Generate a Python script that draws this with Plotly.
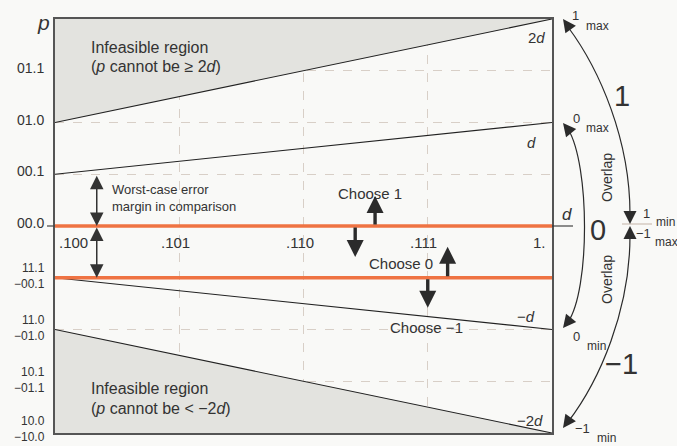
import plotly.graph_objects as go

# ---------------- data ----------------
d_range = [0.5, 1.0]                                  # d from .100 to 1. (binary)
x_ticks = [0.5, 0.625, 0.75, 0.875, 1.0]
x_labels = ['.100', '.101', '.110', '.111', '1.']
p_ticks = [1.5, 1.0, 0.5, 0.0, -0.5, -1.0, -1.5, -2.0]
p_labels_top = ['01.1', '01.0', '00.1', '00.0', '11.1', '11.0', '10.1', '10.0']
p_labels_bottom = ['', '', '', '', '−00.1', '−01.0', '−01.1', '−10.0']
bound_mult = [2, 1, -1, -2]
bound_labels = ['2<i>d</i>', '<i>d</i>', '−<i>d</i>', '−2<i>d</i>']
thresholds = [0.0, -0.5]
p_max, p_min = 2.0, -2.0

# choose-arrows: (x, tail p, tip p)
choose_arrows = [(0.822, 0.0, 0.29), (0.802, 0.0, -0.30),
                 (0.895, -0.5, -0.20), (0.875, -0.5, -0.79)]
margin_arrow_x = 0.542

# ---------------- style ----------------
BG = '#f9f9f7'
FILL = '#e3e3df'
ORANGE = '#ef7343'
GRID = '#d8cfc7'
TXT = '#333333'
FONT = 'Liberation Sans, Arial, sans-serif'

L, T, W, H = 55, 19, 497, 414
def px(x):
    return (x - L) / W
def py(y):
    return (T + H - y) / H

fig = go.Figure()

# infeasible regions
fig.add_trace(go.Scatter(x=[d_range[0], d_range[1], d_range[0], d_range[0]],
                         y=[bound_mult[0] * d_range[0], bound_mult[0] * d_range[1], p_max, bound_mult[0] * d_range[0]],
                         fill='toself', fillcolor=FILL, mode='lines', line=dict(width=0),
                         hoverinfo='skip', showlegend=False))
fig.add_trace(go.Scatter(x=[d_range[0], d_range[1], d_range[0], d_range[0]],
                         y=[bound_mult[3] * d_range[0], bound_mult[3] * d_range[1], p_min, bound_mult[3] * d_range[0]],
                         fill='toself', fillcolor=FILL, mode='lines', line=dict(width=0),
                         hoverinfo='skip', showlegend=False))

# bound lines p = k d
for k in bound_mult:
    fig.add_trace(go.Scatter(x=d_range, y=[k * d for d in d_range], mode='lines',
                             line=dict(color='#222222', width=1.1),
                             hoverinfo='skip', showlegend=False))

# threshold lines
for t in thresholds:
    fig.add_trace(go.Scatter(x=d_range, y=[t, t], mode='lines',
                             line=dict(color=ORANGE, width=3.6),
                             hoverinfo='skip', showlegend=False))

ann = []
def text(x, y, s, size=14, xanchor='center', yanchor='middle', xref='paper', yref='paper', **kw):
    d = dict(x=x, y=y, text=s, showarrow=False, xref=xref, yref=yref,
             xanchor=xanchor, yanchor=yanchor, font=dict(size=size, color=TXT, family=FONT))
    d.update(kw)
    ann.append(d)

# y tick labels
for p, a, b in zip(p_ticks, p_labels_top, p_labels_bottom):
    if b:
        ys = 4 if p == p_min else 1.5
        text(0, p, a + '<br>' + b, size=12, xanchor='right', yref='y', xshift=-8, yshift=ys,
             align='right')
    else:
        text(0, p, a, size=14, xanchor='right', yref='y', xshift=-9, yshift=3)
text(px(43), py(22), '<i>p</i>', size=21)

# x tick labels (inside, under p = 0 line)
for i, (xv, lab) in enumerate(zip(x_ticks, x_labels)):
    if i == 0:
        text(xv, thresholds[0], lab, size=15, xanchor='left', xref='x', yref='y', xshift=2, yshift=-16)
    elif i == len(x_ticks) - 1:
        text(xv, thresholds[0], lab, size=15, xanchor='right', xref='x', yref='y', xshift=-4, yshift=-16)
    else:
        text(xv, thresholds[0], lab, size=15, xanchor='center', xref='x', yref='y', xshift=-4, yshift=-16)

# bound labels
bl_shift = [(-5, -18), (-14, -19.5), (-15, 13.5), (-7, 13)]
for k, lab, (xs, ys) in zip(bound_mult, bound_labels, bl_shift):
    text(d_range[1], k * d_range[1], lab, size=15, xanchor='right', xref='x', yref='y', xshift=xs, yshift=ys)
text(px(567), py(214), '<i>d</i>', size=17)

# infeasible region texts
text(px(89), py(48), 'Infeasible region', size=16, xanchor='left')
text(px(89), py(67), '(<i>p</i> cannot be ≥ 2<i>d</i>)', size=16, xanchor='left')
text(px(89), py(388), 'Infeasible region', size=16, xanchor='left')
text(px(89), py(408), '(<i>p</i> cannot be &lt; −2<i>d</i>)', size=16, xanchor='left')

# worst-case margin text
text(px(110), py(190), 'Worst-case error', size=13, xanchor='left')
text(px(110), py(206), 'margin in comparison', size=13, xanchor='left')

# choose texts
text(px(336), py(193), 'Choose 1', size=15, xanchor='left')
text(px(367), py(263), 'Choose 0', size=15, xanchor='left')
text(px(388), py(327), 'Choose −1', size=15, xanchor='left')

# right side labels
text(px(622), py(96), '1', size=29)
text(px(598), py(230), '0', size=29)
text(px(621), py(364), '−1', size=29)
text(px(607), py(178), 'Overlap', size=14, textangle=-90)
text(px(607), py(280), 'Overlap', size=14, textangle=-90)

small = [('1', 575, 16, 'max', 597, 26), ('0', 576, 119, 'max', 597, 128),
         ('0', 576, 336, 'min', 596, 346), ('−1', 582, 428, 'min', 606, 438),
         ('1', 646, 213, 'min', 665, 222), ('−1', 643, 233, 'max', 666, 242)]
for a, ax_, ay_, b, bx, by in small:
    text(px(ax_), py(ay_), a, size=13)
    text(px(bx), py(by), b, size=12)

# thick choose arrows
for xv, tail, tip in choose_arrows:
    ann.append(dict(x=xv, y=tip, ax=xv, ay=tail, xref='x', yref='y', axref='x', ayref='y',
                    text='', showarrow=True, arrowhead=2, arrowsize=1.0, arrowwidth=3.4,
                    arrowcolor='#2b2b2b'))

# worst-case margin double arrows
for a, b in [(0.5, 0.0), (0.0, -0.5)]:
    ann.append(dict(x=margin_arrow_x, y=b, ax=margin_arrow_x, ay=a, xref='x', yref='y',
                    axref='x', ayref='y', text='', showarrow=True, arrowhead=2, arrowsize=1.8,
                    arrowwidth=1.5, arrowside='end+start', startarrowhead=2, startarrowsize=1.8,
                    arrowcolor='#333333'))

# curve arrowheads (tip px, tail offset px)
heads = [(563, 19, 8, 11), (630, 224, 0, -13), (630, 226, 0, 13),
         (563, 123, 8, 10), (563, 328, 8, -10), (563, 428, 8, -11)]
for hx, hy, ox, oy in heads:
    ann.append(dict(x=px(hx), y=py(hy), ax=ox, ay=oy, xref='paper', yref='paper',
                    text='', showarrow=True, arrowhead=2, arrowsize=2.0, arrowwidth=1.3,
                    arrowcolor='#2b2b2b'))

shapes = []
def curve(p0, c1, c2, p1):
    pts = [p0, c1, c2, p1]
    s = 'M {:.4f},{:.4f} C {:.4f},{:.4f} {:.4f},{:.4f} {:.4f},{:.4f}'.format(
        *[v for pt in pts for v in (px(pt[0]), py(pt[1]))])
    shapes.append(dict(type='path', path=s, xref='paper', yref='paper',
                       line=dict(color='#2b2b2b', width=1.2)))

curve((568, 27), (600, 70), (630, 140), (630, 214))
curve((568, 129), (590, 165), (590, 290), (568, 322))
curve((630, 236), (630, 310), (600, 380), (568, 422))

# small tick at 00.0, underline at right, tan separator
shapes.append(dict(type='line', xref='paper', yref='y', x0=px(47), x1=0, y0=0, y1=0,
                   line=dict(color='#444444', width=1.2)))
shapes.append(dict(type='line', xref='paper', yref='y', x0=1, x1=px(573), y0=0, y1=0,
                   line=dict(color='#333333', width=1.1)))
shapes.append(dict(type='line', xref='paper', yref='paper', x0=px(622), x1=px(652),
                   y0=py(224), y1=py(224), line=dict(color='#cbbfb5', width=1.2)))

fig.update_layout(
    width=677, height=446,
    margin=dict(l=L, r=677 - L - W, t=T, b=446 - T - H),
    paper_bgcolor=BG, plot_bgcolor=BG,
    showlegend=False,
    font=dict(family=FONT, color=TXT),
    annotations=ann, shapes=shapes,
    xaxis=dict(range=d_range, tickvals=x_ticks, showticklabels=False, ticks='',
               showgrid=True, gridcolor=GRID, griddash='dash', gridwidth=1,
               zeroline=False, showline=True, mirror=True, linecolor='#555555', linewidth=1.6),
    yaxis=dict(range=[p_min, p_max], tickvals=p_ticks, showticklabels=False, ticks='',
               showgrid=True, gridcolor=GRID, griddash='dash', gridwidth=1,
               zeroline=False, showline=True, mirror=True, linecolor='#555555', linewidth=1.6),
)

fig.write_html('out.html', config={'displayModeBar': False},
               post_script="document.body.style.margin='0';document.body.style.overflow='hidden';"
                           "document.body.style.background='" + BG + "';")
